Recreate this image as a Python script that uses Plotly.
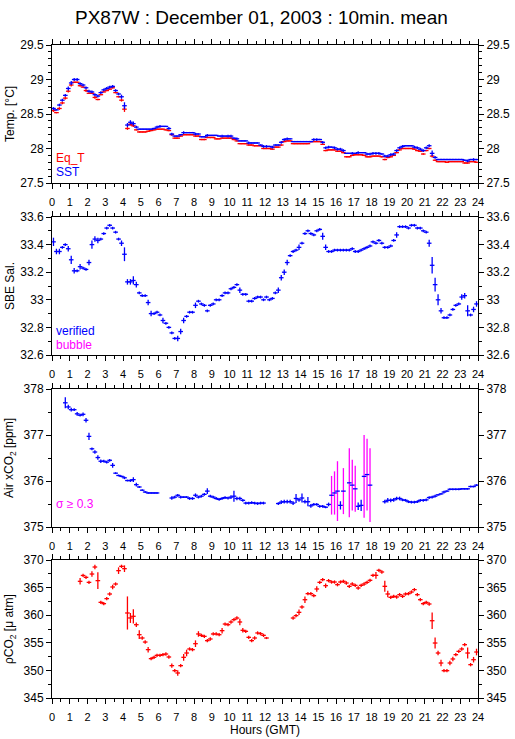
import plotly.graph_objects as go

# 10-minute mean bin centres (hours, GMT)
hours = [h + m / 60 for h in range(24) for m in (5, 15, 25, 35, 45, 55)]

# ---------------- Panel 1 : temperatures ----------------
sst = [
    28.58, 28.56, 28.63, 28.70, 28.77, 28.87,
    28.95, 29.00, 29.00, 28.94, 28.92, 28.88,
    28.83, 28.82, 28.78, 28.76, 28.81, 28.85,
    28.87, 28.89, 28.90, 28.84, 28.79, 28.75,
    28.62, 28.34, 28.38, 28.36, 28.31, 28.28,
    28.28, 28.28, 28.28, 28.28, 28.29, 28.31,
    28.32, 28.32, 28.32, 28.29, 28.21, 28.18,
    28.18, 28.20, 28.23, 28.23, 28.23, 28.23,
    28.21, 28.21, 28.17, 28.17, 28.19, 28.19,
    28.19, 28.19, 28.18, 28.18, 28.18, 28.18,
    28.18, 28.15, 28.14, 28.11, 28.11, 28.11,
    28.08, 28.08, 28.08, 28.08, 28.05, 28.03,
    28.03, 28.03, 28.02, 28.05, 28.05, 28.09,
    28.13, 28.14, 28.14, 28.10, 28.10, 28.10,
    28.10, 28.10, 28.10, 28.10, 28.13, 28.13,
    28.13, 28.09, 28.01, 28.02, 28.02, 28.01,
    27.99, 27.99, 27.97, 27.93, 27.93, 27.93,
    27.93, 27.94, 27.94, 27.94, 27.92, 27.92,
    27.93, 27.93, 27.93, 27.92, 27.89, 27.89,
    27.91, 27.92, 27.97, 28.01, 28.03, 28.04,
    28.04, 28.04, 28.02, 28.01, 27.99, 27.97,
    28.01, 28.04, 27.93, 27.87, 27.84, 27.84,
    27.84, 27.84, 27.84, 27.84, 27.84, 27.84,
    27.84, 27.83, 27.82, 27.84, 27.84, 27.84,
]
sst_sd = [
    .02, .01, .02, .02, .02, .03,
    .03, .02, .02, .02, .02, .02,
    .02, .02, .02, .02, .02, .02,
    .02, .02, .02, .02, .02, .03,
    .05, .03, .03, .03, .02, .01,
    .01, .01, .01, .01, .01, .02,
    .02, .01, .01, .02, .02, .01,
    .01, .01, .02, .01, .01, .01,
    .02, .01, .01, .01, .02, .01,
    .01, .01, .01, .02, .01, .02,
    .02, .01, .02, .01, .01, .01,
    .02, .01, .01, .01, .01, .02,
    .02, .01, .02, .01, .01, .02,
    .02, .02, .01, .01, .01, .01,
    .01, .01, .01, .01, .02, .02,
    .01, .02, .02, .02, .01, .02,
    .02, .02, .02, .01, .01, .02,
    .01, .02, .01, .01, .02, .02,
    .02, .02, .02, .01, .02, .02,
    .02, .02, .02, .02, .02, .01,
    .01, .01, .02, .02, .02, .02,
    .02, .02, .04, .02, .01, .01,
    .01, .01, .01, .01, .01, .01,
    .01, .01, .02, .01, .02, .01,
]
eqt = [
    28.55, 28.52, 28.58, 28.66, 28.73, 28.83,
    28.92, 28.96, 28.96, 28.91, 28.89, 28.84,
    28.80, 28.80, 28.74, 28.71, 28.78, 28.82,
    28.84, 28.86, 28.88, 28.81, 28.75, 28.70,
    28.57, 28.29, 28.35, 28.33, 28.27, 28.24,
    28.24, 28.24, 28.25, 28.26, 28.27, 28.28,
    28.28, 28.28, 28.27, 28.26, 28.20, 28.15,
    28.15, 28.18, 28.20, 28.20, 28.20, 28.20,
    28.18, 28.18, 28.13, 28.13, 28.16, 28.16,
    28.16, 28.14, 28.14, 28.15, 28.15, 28.15,
    28.15, 28.13, 28.11, 28.07, 28.07, 28.07,
    28.05, 28.05, 28.04, 28.04, 28.04, 28.00,
    28.00, 28.00, 27.99, 28.02, 28.02, 28.05,
    28.10, 28.11, 28.11, 28.07, 28.07, 28.07,
    28.07, 28.07, 28.07, 28.10, 28.10, 28.10,
    28.10, 28.06, 27.97, 27.98, 27.98, 27.98,
    27.96, 27.96, 27.94, 27.88, 27.88, 27.90,
    27.91, 27.91, 27.91, 27.90, 27.88, 27.88,
    27.89, 27.89, 27.89, 27.88, 27.84, 27.87,
    27.88, 27.90, 27.94, 27.98, 28.00, 28.00,
    28.00, 28.00, 27.99, 27.97, 27.96, 27.92,
    27.97, 28.00, 27.89, 27.83, 27.81, 27.81,
    27.81, 27.80, 27.81, 27.81, 27.81, 27.81,
    27.81, 27.79, 27.79, 27.81, 27.81, 27.80,
]
eqt_sd = [
    .02, .01, .02, .02, .02, .02,
    .02, .01, .01, .01, .01, .02,
    .01, .01, .02, .01, .01, .01,
    .01, .01, .01, .01, .01, .02,
    .04, .02, .02, .02, .01, .01,
    .01, .01, .01, .01, .01, .01,
    .01, .01, .01, .01, .01, .01,
    .01, .01, .01, .01, .01, .01,
    .01, .01, .01, .01, .01, .01,
    .01, .01, .01, .01, .01, .01,
    .01, .01, .01, .01, .01, .01,
    .01, .01, .01, .01, .01, .01,
    .01, .01, .01, .01, .01, .01,
    .01, .01, .01, .01, .01, .01,
    .01, .01, .01, .01, .01, .01,
    .01, .01, .01, .01, .01, .01,
    .01, .01, .01, .01, .01, .01,
    .01, .01, .01, .01, .01, .01,
    .01, .01, .01, .01, .01, .01,
    .01, .01, .01, .01, .01, .01,
    .01, .01, .01, .01, .01, .01,
    .01, .01, .02, .01, .01, .01,
    .01, .01, .01, .01, .01, .01,
    .01, .01, .01, .01, .01, .01,
]

# ---------------- Panel 2 : SBE salinity ----------------
sal = [
    33.42, 33.35, 33.35, 33.38, 33.40, 33.37,
    33.29, 33.21, 33.21, 33.24, 33.23, 33.22,
    33.27, 33.40, 33.44, 33.43, 33.44, 33.48,
    33.52, 33.54, 33.52, 33.49, 33.44, 33.41,
    33.33, 33.13, 33.13, 33.14, 33.11, 33.05,
    33.03, 33.03, 32.98, 32.90, 32.90, 32.91,
    32.89, 32.85, 32.83, 32.80, 32.76, 32.72,
    32.72, 32.77, 32.85, 32.88, 32.91, 32.91,
    32.96, 32.99, 32.97, 32.96, 32.92, 32.96,
    32.97, 33.00, 33.00, 33.03, 33.05, 33.05,
    33.08, 33.09, 33.11, 33.07, 33.04, 33.04,
    32.99, 32.99, 33.01, 33.02, 33.02, 33.00,
    33.02, 33.00, 33.01, 33.05, 33.07, 33.16,
    33.20, 33.27, 33.32, 33.35, 33.36, 33.38,
    33.41, 33.48, 33.50, 33.48, 33.47, 33.50,
    33.51, 33.46, 33.38, 33.35, 33.35, 33.36,
    33.36, 33.36, 33.36, 33.36, 33.36, 33.37,
    33.35, 33.35, 33.36, 33.37, 33.38, 33.39,
    33.42, 33.41, 33.43, 33.41, 33.38, 33.38,
    33.39, 33.43, 33.47, 33.53, 33.53, 33.53,
    33.52, 33.54, 33.54, 33.52, 33.52, 33.50,
    33.49, 33.41, 33.25, 33.11, 33.00, 32.92,
    32.87, 32.87, 32.89, 32.93, 32.96, 32.97,
    33.02, 33.03, 32.92, 32.89, 32.93, 32.97,
]
sal_sd = [
    .03, .02, .02, .01, .01, .02,
    .03, .02, .01, .02, .01, .01,
    .02, .03, .02, .02, .01, .01,
    .01, .01, .01, .01, .01, .02,
    .05, .02, .02, .03, .02, .01,
    .01, .01, .02, .02, .01, .01,
    .01, .02, .01, .01, .01, .01,
    .02, .02, .02, .01, .01, .01,
    .02, .01, .01, .01, .01, .01,
    .01, .01, .01, .01, .01, .01,
    .01, .01, .01, .02, .01, .01,
    .01, .01, .01, .01, .01, .01,
    .01, .01, .01, .01, .02, .02,
    .02, .02, .01, .01, .01, .02,
    .01, .01, .01, .01, .01, .01,
    .01, .025, .02, .01, .01, .01,
    .01, .01, .01, .01, .01, .01,
    .01, .01, .01, .01, .01, .01,
    .01, .01, .01, .01, .01, .01,
    .01, .01, .02, .01, .01, .01,
    .01, .01, .01, .01, .01, .01,
    .01, .025, .06, .05, .04, .02,
    .01, .01, .01, .01, .01, .01,
    .02, .02, .04, .01, .02, .02,
]

# ---------------- Panel 3 : air xCO2 ----------------
N = None
xco2 = [
    N, N, N, N, 377.70, 377.61,
    377.55, 377.55, 377.46, 377.43, 377.45, 377.32,
    376.97, 376.70, 376.63, 376.51, 376.43, 376.43,
    376.41, 376.45, 376.34, 376.17, 376.12, 376.10,
    376.07, 376.01, 376.01, 376.03, 375.92, 375.87,
    375.80, 375.76, 375.74, 375.74, 375.74, 375.74,
    N, N, N, N, 375.63, 375.65,
    375.69, 375.65, 375.65, 375.65, 375.62, 375.62,
    375.69, 375.65, 375.67, 375.71, 375.78, 375.67,
    375.65, 375.62, 375.60, 375.62, 375.64, 375.63,
    375.65, 375.67, 375.62, 375.62, 375.58, 375.52,
    375.52, 375.53, 375.52, 375.51, 375.52, 375.52,
    N, N, N, N, 375.51, 375.54,
    375.55, 375.55, 375.55, 375.52, 375.62, 375.59,
    375.63, 375.55, 375.55, 375.46, 375.49, 375.49,
    375.45, 375.45, 375.43, 375.49, 375.69, 375.74,
    375.78, 375.47, 375.78, N, 375.96, 375.91,
    375.83, 375.45, 375.47, 376.10, 376.14, 375.91,
    N, N, N, N, 375.55, 375.58,
    375.58, 375.59, 375.62, 375.62, 375.59, 375.58,
    375.55, 375.54, 375.54, 375.55, 375.58, 375.58,
    375.59, 375.64, 375.65, 375.67, 375.70, 375.72,
    375.76, 375.78, 375.82, 375.82, 375.82, 375.82,
    375.83, 375.83, 375.83, 375.88, 375.88, 375.91,
]
xco2_sd = [
    0, 0, 0, 0, .12, .05,
    .04, .03, .04, .03, .04, .05,
    .08, .03, .04, .05, .04, .03,
    .03, .03, .05, .02, .02, .02,
    .03, .02, .03, .05, .04, .02,
    .02, .02, .02, .02, .02, .02,
    0, 0, 0, 0, .04, .03,
    .03, .03, .02, .02, .03, .03,
    .04, .03, .03, .03, .06, .03,
    .03, .03, .03, .03, .03, .03,
    .04, .12, .04, .04, .03, .03,
    .03, .03, .03, .03, .03, .03,
    0, 0, 0, 0, .03, .04,
    .04, .04, .04, .04, .10, .04,
    .10, .04, .10, .04, .03, .03,
    .03, .03, .02, .04, .42, .47,
    .65, .09, .50, 0, .75, .55,
    .50, .08, .12, .90, .78, .80,
    0, 0, 0, 0, .04, .05,
    .04, .04, .04, .04, .03, .03,
    .03, .03, .03, .03, .03, .03,
    .03, .03, .03, .03, .02, .02,
    .03, .02, .02, .02, .02, .02,
    .02, .02, .02, .02, .02, .02,
]
sigma_limit = 0.3

# ---------------- Panel 4 : pCO2 ----------------
pco2 = [
    N, N, N, N, N, N,
    N, N, N, 366.14, 367.20, 366.86,
    365.95, 367.46, 368.73, 366.26, 362.33, 362.09,
    363.00, 363.84, 365.11, 365.65, 368.07, 368.85,
    368.43, 360.40, 359.50, 359.80, 358.28, 356.47,
    355.87, 355.14, 353.76, 352.13, 352.37, 352.73,
    352.73, 352.85, 352.97, 352.43, 350.86, 349.95,
    349.53, 350.86, 352.37, 353.15, 353.88, 353.76,
    354.84, 356.60, 356.35, 356.17, 355.39, 355.69,
    356.60, 356.60, 356.47, 357.20, 358.40, 358.28,
    358.77, 359.19, 359.49, 358.77, 357.26, 357.08,
    355.99, 355.39, 355.87, 356.78, 356.65, 356.35,
    355.87, N, N, N, N, N,
    N, N, N, 359.49, 359.92, 360.52,
    361.49, 362.81, 363.90, 363.90, 363.54, 364.75,
    365.95, 366.44, 365.35, 366.26, 366.01, 366.01,
    365.53, 366.01, 366.14, 365.83, 365.23, 365.65,
    365.41, 364.93, 365.41, 365.65, 365.95, 366.32,
    367.22, 367.22, 368.13, 367.83, 365.23, 363.84,
    363.24, 363.42, 363.30, 363.72, 363.42, 363.84,
    363.90, 364.20, 364.63, 363.72, 362.81, 362.09,
    362.33, 362.03, 359.00, 354.96, 353.15, 351.34,
    349.95, 349.95, 351.34, 352.07, 352.85, 353.45,
    353.88, 354.66, 353.15, 351.04, 351.94, 353.33,
]
pco2_sd = [
    0, 0, 0, 0, 0, 0,
    0, 0, 0, .6, .3, .3,
    .3, .5, .4, 1.5, .3, .3,
    .3, .3, .4, .3, .6, .3,
    .6, 3.0, .9, 1.3, .4, .8,
    .3, .3, .5, .3, .3, .3,
    .3, .3, .3, .3, .4, .3,
    .5, .3, .6, .6, .3, .3,
    .6, .5, .3, .3, .3, .3,
    .3, .3, .3, .5, .3, .3,
    .3, .3, .3, .6, .4, .3,
    .3, .3, .3, .3, .3, .3,
    .2, 0, 0, 0, 0, 0,
    0, 0, 0, .3, .3, .5,
    .3, .6, .3, .3, .3, .5,
    .3, .3, .4, .3, .3, .3,
    .3, .3, .3, .3, .3, .3,
    .3, .3, .3, .3, .3, .3,
    .3, .6, .3, .3, 1.0, .6,
    .3, .3, .3, .3, .3, .3,
    .3, .3, .3, .3, .3, .3,
    .3, .3, 1.5, 1.0, .4, .6,
    .3, .3, .4, .4, .3, .3,
    .3, .3, 1.0, .3, .5, .6,
]

# ---------------- styling ----------------
RED, BLUE, MAG = "#ff0000", "#0000ff", "#ff00ff"
HALF_BAR = 0.13   # horizontal half-width of each 10-min cross (hours)
LW = 1.3
W, H = 515, 739
# plot-area edges in page pixels
LEFT, RIGHT, TOP, BOTTOM = 52, 478, 45, 698
ML, MR, MT, MB = LEFT, W - RIGHT, TOP, H - BOTTOM
PW, PH = W - ML - MR, H - MT - MB

def ydom(top_px, bot_px):
    return [(BOTTOM - bot_px) / PH, (BOTTOM - top_px) / PH]

panels = [
    dict(dom=ydom(45, 183), rng=[27.5, 29.5], dtick=0.5, minor=0.1),
    dict(dom=ydom(217, 355), rng=[32.6, 33.6], dtick=0.2, minor=0.1),
    dict(dom=ydom(389, 527), rng=[375, 378], dtick=1, minor=0.5),
    dict(dom=ydom(560, 698), rng=[345, 370], dtick=5, minor=2.5),
]

fig = go.Figure()

def crosses(i, y, sd, hcolor, vcolor=None, vmask=None, show_h=True):
    xs, ys, es = [], [], []
    for t, v, s in zip(hours, y, sd):
        if v is None:
            continue
        if vmask is not None and not vmask(s):
            continue
        xs.append(t); ys.append(v); es.append(s)
    ax = "" if i == 0 else str(i + 1)
    fig.add_trace(go.Scatter(
        x=xs, y=ys, mode="markers", xaxis="x" + ax, yaxis="y" + ax,
        marker=dict(size=1, color=hcolor, opacity=0),
        error_y=dict(type="data", array=es, symmetric=True, visible=True,
                     color=vcolor or hcolor, thickness=LW, width=0),
        error_x=dict(type="constant", value=HALF_BAR, visible=show_h,
                     color=hcolor, thickness=LW, width=0),
        showlegend=False, hoverinfo="skip"))

# panel 1
crosses(0, eqt, eqt_sd, RED)
crosses(0, sst, sst_sd, BLUE)
# panel 2
crosses(1, sal, sal_sd, BLUE)
# panel 3 (vertical bars magenta when sigma >= limit)
crosses(2, xco2, xco2_sd, BLUE, MAG, vmask=lambda s: s >= sigma_limit, show_h=False)
crosses(2, xco2, xco2_sd, BLUE, BLUE, vmask=lambda s: s < sigma_limit, show_h=False)
fig.add_trace(go.Scatter(
    x=[t for t, v in zip(hours, xco2) if v is not None],
    y=[v for v in xco2 if v is not None],
    mode="markers", xaxis="x3", yaxis="y3",
    marker=dict(size=1, opacity=0),
    error_x=dict(type="constant", value=HALF_BAR, color=BLUE, thickness=LW, width=0),
    showlegend=False, hoverinfo="skip"))
# panel 4
crosses(3, pco2, pco2_sd, RED)

tickfont_x = dict(family="Liberation Sans, Arial", size=11, color="black")
tickfont_y = dict(family="Liberation Sans, Arial", size=12, color="black")

layout = dict(width=W, height=H, margin=dict(l=ML, r=MR, t=MT, b=MB, autoexpand=False),
              paper_bgcolor="white", plot_bgcolor="white", showlegend=False)

for i, p in enumerate(panels):
    n = "" if i == 0 else str(i + 1)
    r = str(i + 5)
    layout["xaxis" + n] = dict(
        domain=[0, 1], anchor="y" + n, range=[0, 24], tick0=0, dtick=1,
        ticks="outside", ticklen=5, tickwidth=1, tickcolor="black",
        minor=dict(dtick=0.5, ticks="outside", ticklen=3, tickcolor="black"),
        showline=True, linecolor="black", linewidth=1, mirror="ticks",
        showgrid=False, zeroline=False, tickfont=tickfont_x, automargin=False,
        ticklabelstandoff=4, fixedrange=True)
    layout["yaxis" + n] = dict(
        domain=p["dom"], anchor="x" + n, range=p["rng"], tick0=p["rng"][0],
        dtick=p["dtick"], ticks="outside", ticklen=5, tickcolor="black",
        minor=dict(dtick=p["minor"], ticks="outside", ticklen=3, tickcolor="black"),
        showline=True, linecolor="black", linewidth=1, mirror=True,
        showgrid=False, zeroline=False, tickfont=tickfont_y, automargin=False,
        fixedrange=True)
    layout["yaxis" + r] = dict(
        overlaying="y" + n, anchor="x" + n, side="right", range=p["rng"],
        tick0=p["rng"][0], dtick=p["dtick"], ticks="outside", ticklen=5,
        tickcolor="black",
        minor=dict(dtick=p["minor"], ticks="outside", ticklen=3, tickcolor="black"),
        showline=False, showgrid=False, zeroline=False, tickfont=tickfont_y,
        automargin=False, fixedrange=True)
    fig.add_trace(go.Scatter(x=[0], y=[p["rng"][0]], xaxis="x" + n, yaxis="y" + r,
                             mode="markers", marker=dict(opacity=0),
                             showlegend=False, hoverinfo="skip"))

fig.update_layout(**layout)

def px_x(px):
    return (px - LEFT) / PW

def px_y(py):
    return (BOTTOM - py) / PH

font12 = "Liberation Sans, Arial"
ann = []
ann.append(dict(text="PX87W : December 01, 2003 : 10min. mean", x=px_x(261), y=px_y(17),
                font=dict(family=font12, size=19, color="black")))
ann.append(dict(text="Hours (GMT)", x=px_x(265), y=px_y(730),
                font=dict(family=font12, size=12, color="black")))
ytitles = ["Temp. [°C]", "SBE Sal.", "Air xCO<sub>2</sub> [ppm]", "ρCO<sub>2</sub> [μ atm]"]
ycent = [114, 286, 458, 629]
for t, yc in zip(ytitles, ycent):
    ann.append(dict(text=t, x=px_x(10), y=px_y(yc), textangle=-90,
                    font=dict(family=font12, size=12, color="black")))
legend_items = [("Eq_T", RED, 158), ("SST", BLUE, 172),
                ("verified", BLUE, 331), ("bubble", MAG, 345),
                ("σ ≥ " + str(sigma_limit), MAG, 504)]
for t, c, yc in legend_items:
    ann.append(dict(text=t, x=px_x(54), y=px_y(yc), xanchor="left",
                    font=dict(family=font12, size=12, color=c)))
for a in ann:
    a.setdefault("xanchor", "center")
    a.update(xref="paper", yref="paper", yanchor="middle", showarrow=False)
fig.update_layout(annotations=ann)

fig.write_html("out.html", config={"displayModeBar": False},
               post_script="document.body.style.margin='0';document.body.style.overflow='hidden';")
